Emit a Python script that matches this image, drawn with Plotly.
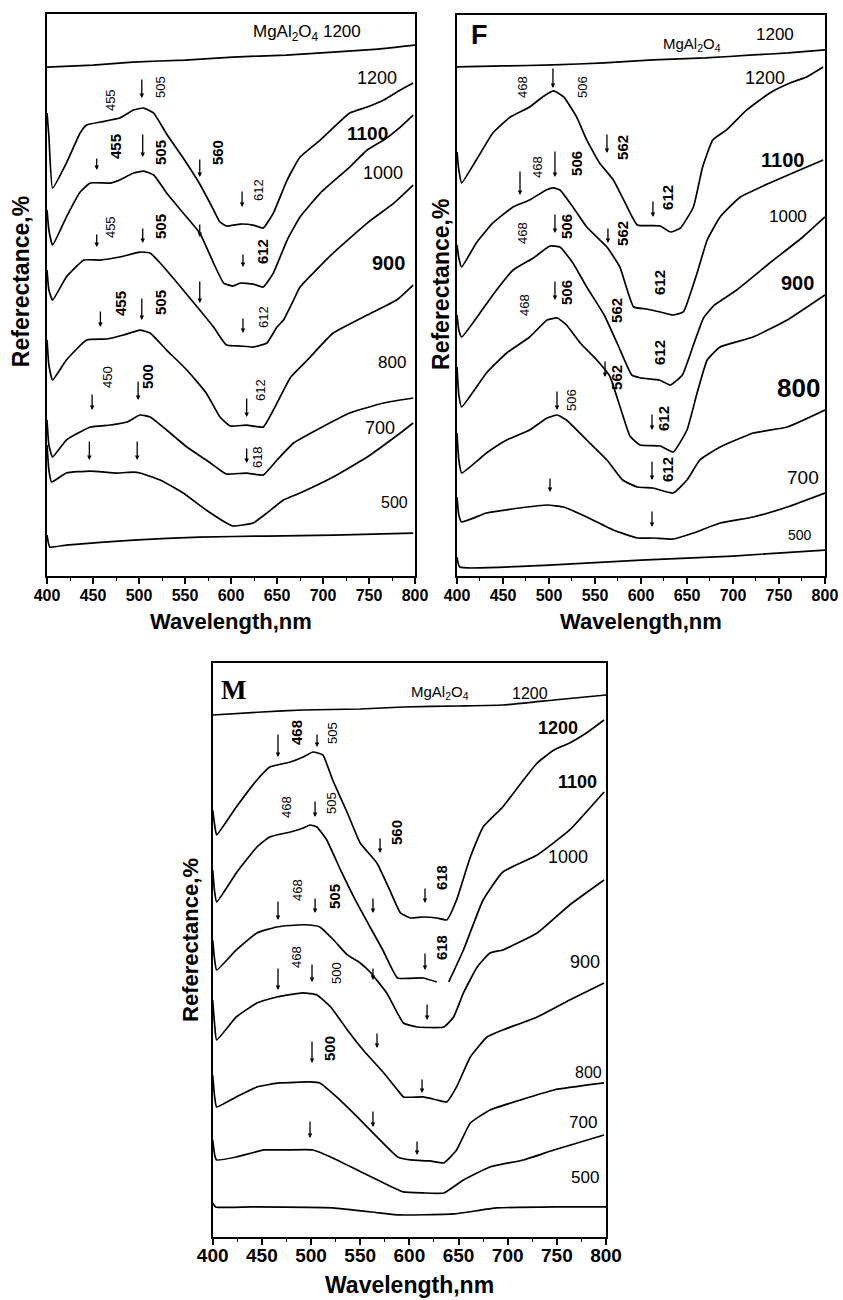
import plotly.graph_objects as go

# ---------------- data: wavelength (nm) and reflectance (arbitrary, offset curves) ----------------
# Panel 1 (top left)
TL_MG_NM = [400, 450, 493, 550, 602, 660, 711, 760, 800]
TL_MG_R = [509, 511, 514, 516, 519, 521, 524, 527, 531]
TL_1200_NM = [400, 402, 406, 421, 436, 443, 458, 479, 494, 505, 516, 530, 548, 566, 580, 588, 595, 610, 624, 635, 646, 661, 675, 697, 729, 748, 766, 784, 798]
TL_1200_R = [463, 440, 388, 413, 443, 451, 454, 458, 466, 468, 463, 442, 418, 392, 368, 354, 350, 352, 351, 348, 363, 396, 419, 436, 463, 469, 476, 486, 493]
TL_1100_NM = [400, 402, 406, 421, 436, 447, 469, 479, 494, 505, 516, 530, 548, 566, 581, 592, 602, 610, 624, 635, 646, 661, 675, 697, 729, 748, 766, 784, 798]
TL_1100_R = [366, 346, 331, 359, 384, 393, 393, 396, 403, 405, 401, 383, 363, 343, 313, 293, 290, 293, 292, 289, 303, 336, 359, 383, 409, 426, 436, 449, 461]
TL_1000_NM = [400, 402, 406, 421, 440, 458, 479, 501, 512, 523, 548, 566, 581, 595, 610, 624, 639, 650, 657, 668, 675, 711, 748, 777, 798]
TL_1000_R = [306, 286, 276, 299, 316, 316, 319, 324, 323, 313, 286, 266, 249, 231, 230, 229, 233, 249, 256, 276, 289, 323, 353, 373, 391]
TL_900_NM = [400, 402, 406, 421, 443, 465, 483, 501, 512, 530, 552, 573, 588, 599, 617, 635, 646, 665, 683, 711, 748, 780, 798]
TL_900_R = [236, 211, 196, 216, 236, 237, 241, 246, 243, 226, 206, 183, 159, 150, 151, 149, 166, 199, 216, 243, 261, 276, 291]
TL_800_NM = [400, 402, 406, 421, 447, 469, 487, 501, 512, 530, 552, 573, 588, 595, 617, 635, 650, 668, 693, 729, 766, 798]
TL_800_R = [156, 131, 119, 136, 149, 151, 154, 161, 159, 146, 129, 116, 106, 102, 103, 101, 116, 133, 146, 163, 173, 178]
TL_700_NM = [400, 402, 405, 421, 447, 476, 494, 501, 523, 548, 573, 595, 602, 624, 639, 657, 675, 711, 748, 784, 798]
TL_700_R = [131, 106, 94, 103, 105, 103, 104, 103, 96, 83, 66, 53, 50, 53, 63, 76, 83, 99, 119, 143, 153]
TL_500_NM = [400, 403, 421, 494, 566, 639, 711, 798]
TL_500_R = [41, 29, 31, 36, 39, 40, 41, 43]

# Panel F (top right)
TR_MG_NM = [400, 450, 504, 560, 613, 670, 722, 760, 800]
TR_MG_R = [509, 510, 511, 513, 516, 518, 521, 523, 526]
TR_1200_NM = [400, 402, 405, 421, 439, 458, 479, 493, 505, 516, 530, 541, 555, 570, 585, 596, 621, 632, 643, 657, 667, 678, 693, 715, 740, 762, 780, 798]
TR_1200_R = [424, 406, 393, 416, 443, 459, 469, 479, 485, 479, 459, 436, 413, 396, 369, 351, 350, 344, 348, 369, 409, 436, 446, 466, 483, 493, 499, 509]
TR_1100_NM = [400, 402, 405, 421, 439, 461, 479, 497, 505, 512, 526, 541, 563, 577, 592, 606, 621, 635, 646, 661, 672, 686, 708, 740, 765, 798]
TR_1100_R = [331, 318, 309, 333, 353, 369, 376, 386, 388, 386, 369, 349, 329, 309, 269, 267, 264, 261, 264, 303, 336, 359, 379, 393, 403, 416]
TR_1000_NM = [400, 402, 405, 425, 443, 461, 483, 501, 512, 526, 541, 560, 575, 590, 600, 620, 632, 645, 657, 668, 680, 704, 740, 776, 800]
TR_1000_R = [261, 246, 239, 263, 286, 306, 318, 330, 329, 313, 289, 261, 231, 201, 198, 196, 191, 201, 231, 258, 271, 286, 313, 339, 359]
TR_900_NM = [400, 402, 405, 432, 454, 479, 498, 509, 519, 534, 552, 566, 577, 588, 599, 621, 635, 650, 661, 672, 686, 722, 759, 800]
TR_900_R = [209, 181, 169, 203, 223, 239, 256, 258, 251, 233, 216, 200, 170, 140, 131, 130, 124, 146, 183, 216, 229, 239, 256, 281]
TR_800_NM = [400, 402, 405, 432, 454, 479, 498, 509, 519, 541, 563, 580, 596, 613, 635, 650, 664, 686, 722, 759, 800]
TR_800_R = [143, 116, 103, 123, 136, 146, 158, 161, 156, 136, 116, 96, 89, 88, 83, 96, 116, 129, 143, 149, 166]
TR_700_NM = [400, 402, 405, 432, 468, 498, 516, 541, 570, 596, 613, 635, 657, 686, 722, 759, 800]
TR_700_R = [79, 61, 54, 63, 68, 71, 69, 59, 46, 38, 38, 37, 43, 53, 59, 69, 83]
TR_500_NM = [400, 403, 500, 600, 700, 800]
TR_500_R = [19, 9, 11, 16, 20, 26]

# Panel M (bottom)
B_MG_NM = [400, 450, 492, 550, 594, 650, 695, 747, 800]
B_MG_R = [522, 525, 527, 528, 530, 531, 532, 537, 542]
B_1200_NM = [400, 402, 404, 424, 445, 458, 479, 492, 502, 512, 522, 537, 550, 567, 580, 591, 601, 614, 628, 638, 648, 662, 675, 695, 716, 730, 747, 763, 780, 798]
B_1200_R = [427, 412, 402, 430, 457, 470, 475, 480, 485, 482, 457, 424, 394, 374, 347, 324, 319, 320, 319, 317, 337, 380, 410, 430, 457, 474, 487, 494, 504, 517]
B_1100_NM = [400, 402, 404, 424, 445, 458, 479, 492, 499, 506, 516, 530, 545, 560, 573, 588, 614, 628, None, 640, 655, 675, 695, 730, 763, 798]
B_1100_R = [367, 345, 335, 364, 390, 400, 405, 409, 412, 410, 397, 367, 337, 310, 287, 259, 259, 255, None, 255, 287, 337, 365, 382, 407, 445]
B_1000_NM = [400, 402, 404, 424, 445, 465, 486, 499, 509, 523, 537, 550, 560, 577, 594, 608, 635, 645, 655, 669, 682, 695, 730, 763, 798]
B_1000_R = [297, 277, 267, 287, 304, 310, 312, 312, 310, 297, 282, 274, 265, 244, 214, 210, 210, 220, 244, 270, 284, 287, 304, 332, 357]
B_900_NM = [400, 402, 404, 424, 445, 465, 492, 506, 520, 537, 553, 574, 588, 594, 614, 628, 638, 648, 662, 679, 695, 730, 763, 798]
B_900_R = [237, 212, 197, 220, 234, 240, 244, 242, 230, 207, 187, 164, 147, 140, 140, 137, 135, 150, 180, 200, 207, 220, 237, 254]
B_800_NM = [400, 402, 404, 424, 445, 468, 499, 509, 526, 547, 567, 588, 601, 621, 635, 648, 662, 682, 713, 747, 798]
B_800_R = [162, 140, 130, 140, 150, 154, 155, 154, 140, 120, 100, 80, 77, 76, 74, 87, 114, 127, 137, 147, 154]
B_700_NM = [400, 402, 404, 424, 452, 475, 502, 520, 547, 574, 594, 614, 635, 655, 682, 716, 747, 798]
B_700_R = [97, 82, 77, 80, 87, 87, 87, 80, 67, 54, 45, 44, 44, 57, 70, 77, 87, 102]
B_500_NM = [400, 403, 440, 522, 570, 590, 645, 689, 750, 800]
B_500_R = [34, 30, 30, 29, 24, 22, 23, 29, 30, 30]

X_TICKS = [400, 450, 500, 550, 600, 650, 700, 750, 800]
Y_TITLE = "Referectance,%"
X_TITLE = "Wavelength,nm"

# curve labels: (text, nm, reflectance, size, bold)
TL_CURVE_LABELS = [("1200", 759, 498, 18, 0), ("1100", 748, 443, 19, 1), ("1000", 765, 403, 18, 0),
                   ("900", 771, 313, 20, 1), ("800", 775, 214, 17, 0), ("700", 762, 148, 18, 0), ("500", 778, 74, 16, 0),
                   ("MgAl<sub>2</sub>O<sub>4</sub> 1200", 683, 543, 17, 0)]
TR_CURVE_LABELS = [("1200", 735, 498, 18, 0), ("1100", 754, 416, 20, 1), ("1000", 760, 359, 17, 0),
                   ("900", 770, 293, 20, 1), ("800", 771, 188, 26, 1), ("700", 776, 99, 19, 0), ("500", 773, 41, 14, 0),
                   ("MgAl<sub>2</sub>O<sub>4</sub>", 655, 531, 15, 0), ("1200", 746, 541, 17, 0), ("F", 425, 541, 27, 1)]
B_CURVE_LABELS = [("1200", 751, 509, 18, 1), ("1100", 771, 455, 18, 1), ("1000", 761, 380, 18, 0),
                  ("900", 779, 275, 18, 0), ("800", 782, 164, 16, 0), ("700", 777, 114, 17, 0), ("500", 779, 59, 17, 0),
                  ("MgAl<sub>2</sub>O<sub>4</sub>", 631, 545, 15, 0), ("1200", 723, 544, 16, 0)]

# peak labels (rotated): (text, nm, reflectance, bold)
TL_PEAKS = [("455", 468.5, 476, 0), ("505", 522.8, 489, 0), ("455", 473.9, 429, 1), ("505", 522.8, 423, 1),
            ("560", 584.8, 423, 1), ("612", 629.3, 386, 0), ("455", 468.5, 349, 0), ("505", 522.8, 349, 1),
            ("612", 633.7, 324, 1), ("455", 479.3, 273, 1), ("505", 522.8, 273, 1), ("612", 634.8, 259, 0),
            ("450", 465.2, 199, 0), ("500", 508.7, 199, 1), ("612", 631.5, 186, 0), ("618", 628.3, 119, 0)]
TR_PEAKS = [("468", 471.7, 489, 0), ("506", 537.0, 489, 0), ("468", 488.0, 409, 0), ("506", 530.4, 413, 1),
            ("562", 580.4, 429, 1), ("612", 629.3, 379, 1), ("468", 471.7, 343, 0), ("506", 519.6, 349, 1),
            ("562", 580.4, 343, 1), ("612", 620.7, 293, 1), ("468", 473.9, 271, 0), ("506", 519.6, 283, 1),
            ("562", 573.9, 266, 1), ("612", 620.7, 223, 1), ("562", 573.9, 199, 1), ("506", 525.0, 176, 0),
            ("612", 623.9, 158, 1), ("612", 628.3, 106, 1)]
B_PEAKS = [("468", 485.8, 504, 1), ("505", 522.4, 504, 0), ("468", 475.6, 430, 0), ("505", 521.4, 434, 0),
           ("560", 587.5, 404, 1), ("618", 633.3, 359, 1), ("468", 486.8, 347, 0), ("505", 524.4, 340, 1),
           ("618", 633.3, 289, 1), ("468", 485.8, 280, 0), ("500", 526.5, 264, 0), ("500", 519.3, 189, 1)]

# arrows: (nm, reflectance of tail, reflectance of tip)
TL_ARROWS = [(503, 498, 478), (454, 419, 406), (504, 443, 419), (566, 418, 399), (612, 386, 369),
             (454, 343, 329), (504, 349, 333), (566, 353, 339), (613, 323, 309), (458, 266, 249),
             (503, 279, 256), (566, 296, 273), (613, 259, 243), (449, 183, 166), (499, 196, 176),
             (617, 179, 159), (446, 136, 116), (498, 136, 116), (617, 129, 113)]
TR_ARROWS = [(504.3, 509, 488), (563.0, 443, 423), (613.0, 376, 359), (468.5, 406, 381), (506.5, 426, 399),
             (564.1, 349, 333), (506.5, 363, 343), (506.5, 296, 276), (560.9, 216, 199), (508.7, 186, 166),
             (612, 163, 146), (612, 116, 96), (501.1, 99, 84), (612, 66, 49)]
B_ARROWS = [(466.4, 504, 480), (506.1, 504, 490), (504.1, 437, 420), (570.2, 400, 384), (615.9, 350, 334),
            (466.4, 337, 317), (504.1, 340, 324), (563.0, 340, 324), (615.9, 285, 267), (466.4, 270, 247),
            (501.0, 274, 255), (563.0, 270, 257), (618.0, 234, 217), (501.0, 197, 174), (567.1, 205, 189),
            (612.9, 159, 144), (499.0, 117, 99), (563.0, 127, 110), (607.8, 97, 82)]

PANELS = [
    dict(ax="", curves=[(TL_MG_NM, TL_MG_R), (TL_1200_NM, TL_1200_R), (TL_1100_NM, TL_1100_R), (TL_1000_NM, TL_1000_R),
                        (TL_900_NM, TL_900_R), (TL_800_NM, TL_800_R), (TL_700_NM, TL_700_R), (TL_500_NM, TL_500_R)],
         labels=TL_CURVE_LABELS, peaks=TL_PEAKS, arrows=TL_ARROWS),
    dict(ax="2", curves=[(TR_MG_NM, TR_MG_R), (TR_1200_NM, TR_1200_R), (TR_1100_NM, TR_1100_R), (TR_1000_NM, TR_1000_R),
                         (TR_900_NM, TR_900_R), (TR_800_NM, TR_800_R), (TR_700_NM, TR_700_R), (TR_500_NM, TR_500_R)],
         labels=TR_CURVE_LABELS, peaks=TR_PEAKS, arrows=TR_ARROWS),
    dict(ax="3", curves=[(B_MG_NM, B_MG_R), (B_1200_NM, B_1200_R), (B_1100_NM, B_1100_R), (B_1000_NM, B_1000_R),
                         (B_900_NM, B_900_R), (B_800_NM, B_800_R), (B_700_NM, B_700_R), (B_500_NM, B_500_R)],
         labels=B_CURVE_LABELS, peaks=B_PEAKS, arrows=B_ARROWS),
]

FONT = "Liberation Sans, Arial, sans-serif"
fig = go.Figure()
annotations = []

for p in PANELS:
    xr, yr = "x" + p["ax"], "y" + p["ax"]
    for nm, r in p["curves"]:
        fig.add_trace(go.Scatter(x=nm, y=r, mode="lines", xaxis=xr, yaxis=yr,
                                 line=dict(color="black", width=1.7, shape="spline", smoothing=0.4),
                                 connectgaps=False, showlegend=False, hoverinfo="skip"))
    for txt, nm, r, size, bold in p["labels"]:
        annotations.append(dict(x=nm, y=r, xref=xr, yref=yr, text=txt, showarrow=False,
                                xanchor="center", yanchor="middle",
                                font=dict(family=FONT, size=size, color="black", weight="bold" if bold else "normal")))
    for txt, nm, r, bold in p["peaks"]:
        annotations.append(dict(x=nm, y=r, xref=xr, yref=yr, text=txt, showarrow=False, textangle=-90,
                                xanchor="center", yanchor="middle",
                                font=dict(family=FONT, size=15 if bold else 13, color="black",
                                          weight="bold" if bold else "normal")))
    for nm, r0, r1 in p["arrows"]:
        annotations.append(dict(x=nm, y=r1, ax=nm, ay=r0, xref=xr, yref=yr, axref=xr, ayref=yr, text="",
                                showarrow=True, arrowhead=2, arrowsize=0.7, arrowwidth=1.3, arrowcolor="black",
                                standoff=0))

# "M" panel letter
annotations.append(dict(x=421, y=547, xref="x3", yref="y3", text="M", showarrow=False,
                        xanchor="center", yanchor="middle",
                        font=dict(family="Liberation Serif, Times New Roman, serif", size=27, color="black",
                                  weight="bold")))

# axis titles (paper positions)
for (xp, yp, size) in [(0.025, 0.783, 23), (0.523, 0.7815, 23), (0.2266, 0.277, 22)]:
    annotations.append(dict(x=xp, y=yp, xref="paper", yref="paper", text=Y_TITLE, textangle=-90, showarrow=False,
                            xanchor="center", yanchor="middle",
                            font=dict(family=FONT, size=size, color="black", weight="bold")))
for (xp, yp, size, anchor) in [(0.274, 0.5223, 22, "middle"), (0.760, 0.5223, 22, "middle"),
                               (0.4852, 0.0, 23, "bottom")]:
    annotations.append(dict(x=xp, y=yp, xref="paper", yref="paper", text=X_TITLE, showarrow=False,
                            xanchor="center", yanchor=anchor,
                            font=dict(family=FONT, size=size, color="black", weight="bold")))


def xaxis(domain, anchor, size, standoff):
    return dict(domain=domain, anchor=anchor, range=[400, 800], tickvals=X_TICKS, ticks="outside", ticklen=6,
                tickwidth=1.5, tickcolor="black", showline=True, linewidth=2, linecolor="black", mirror=True,
                showgrid=False, zeroline=False, ticklabelstandoff=standoff, automargin=False,
                tickfont=dict(family=FONT, size=size, color="black", weight="bold"),
                minor=dict(ticks="outside", ticklen=3, tickwidth=1.2, tickcolor="black", tick0=425, dtick=50))


def yaxis(domain, anchor, top):
    return dict(domain=domain, anchor=anchor, range=[0, top], showticklabels=False, ticks="", showline=True,
                linewidth=2, linecolor="black", mirror=True, showgrid=False, zeroline=False, automargin=False)


fig.update_layout(
    width=843, height=1300, margin=dict(l=0, r=0, t=0, b=0, autoexpand=False),
    paper_bgcolor="white", plot_bgcolor="white", showlegend=False,
    xaxis=xaxis([0.0558, 0.4923], "y", 16, -2),
    yaxis=yaxis([0.5569, 0.9892], "x", 562),
    xaxis2=xaxis([0.5421, 0.9786], "y2", 16, -2),
    yaxis2=yaxis([0.5569, 0.9885], "x2", 561),
    xaxis3=xaxis([0.2523, 0.7189], "y3", 19, -6),
    yaxis3=yaxis([0.0485, 0.49], "x3", 574),
    annotations=annotations,
)

fig.write_html("out.html")
